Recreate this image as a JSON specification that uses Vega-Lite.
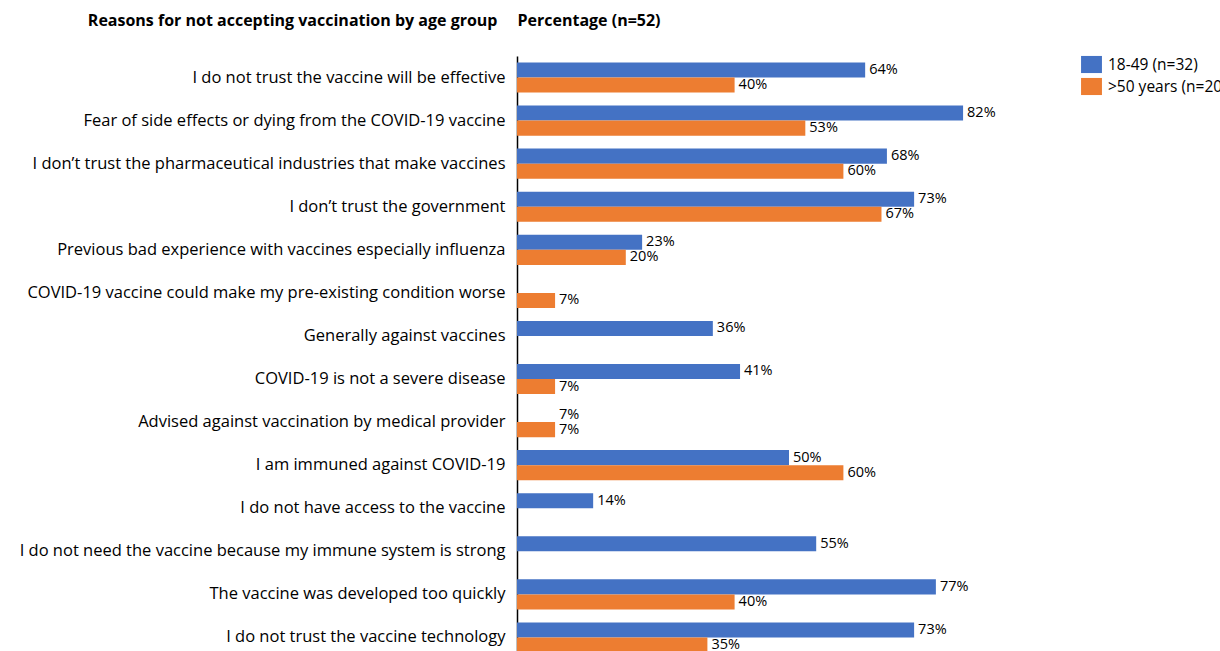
{
  "$schema": "https://vega.github.io/schema/vega-lite/v6.json",
  "autosize": {"type": "none"},
  "padding": {"left": 517, "top": 56, "right": 159, "bottom": 0},
  "width": 544,
  "height": 603,
  "background": "white",
  "config": {"view": {"stroke": null}},
  "data": {
    "values": [
      {"reason": "I do not trust the vaccine will be effective", "group": "18-49 (n=32)", "pct": 64, "bar": 64},
      {"reason": "I do not trust the vaccine will be effective", "group": ">50 years (n=20)", "pct": 40, "bar": 40},
      {"reason": "Fear of side effects or dying from the COVID-19 vaccine", "group": "18-49 (n=32)", "pct": 82, "bar": 82},
      {"reason": "Fear of side effects or dying from the COVID-19 vaccine", "group": ">50 years (n=20)", "pct": 53, "bar": 53},
      {"reason": "I don’t trust the pharmaceutical industries that make vaccines", "group": "18-49 (n=32)", "pct": 68, "bar": 68},
      {"reason": "I don’t trust the pharmaceutical industries that make vaccines", "group": ">50 years (n=20)", "pct": 60, "bar": 60},
      {"reason": "I don’t trust the government", "group": "18-49 (n=32)", "pct": 73, "bar": 73},
      {"reason": "I don’t trust the government", "group": ">50 years (n=20)", "pct": 67, "bar": 67},
      {"reason": "Previous bad experience with vaccines especially influenza", "group": "18-49 (n=32)", "pct": 23, "bar": 23},
      {"reason": "Previous bad experience with vaccines especially influenza", "group": ">50 years (n=20)", "pct": 20, "bar": 20},
      {"reason": "COVID-19 vaccine could make my pre-existing  condition worse", "group": ">50 years (n=20)", "pct": 7, "bar": 7},
      {"reason": "Generally against vaccines", "group": "18-49 (n=32)", "pct": 36, "bar": 36},
      {"reason": "COVID-19 is not a severe disease", "group": "18-49 (n=32)", "pct": 41, "bar": 41},
      {"reason": "COVID-19 is not a severe disease", "group": ">50 years (n=20)", "pct": 7, "bar": 7},
      {"reason": "Advised against vaccination by medical provider", "group": "18-49 (n=32)", "pct": 7, "bar": null},
      {"reason": "Advised against vaccination by medical provider", "group": ">50 years (n=20)", "pct": 7, "bar": 7},
      {"reason": "I am immuned against COVID-19", "group": "18-49 (n=32)", "pct": 50, "bar": 50},
      {"reason": "I am immuned against COVID-19", "group": ">50 years (n=20)", "pct": 60, "bar": 60},
      {"reason": "I do not have access to the vaccine", "group": "18-49 (n=32)", "pct": 14, "bar": 14},
      {"reason": "I do not need the vaccine because my immune system is strong", "group": "18-49 (n=32)", "pct": 55, "bar": 55},
      {"reason": "The vaccine was developed too quickly", "group": "18-49 (n=32)", "pct": 77, "bar": 77},
      {"reason": "The vaccine was developed too quickly", "group": ">50 years (n=20)", "pct": 40, "bar": 40},
      {"reason": "I do not trust the vaccine technology", "group": "18-49 (n=32)", "pct": 73, "bar": 73},
      {"reason": "I do not trust the vaccine technology", "group": ">50 years (n=20)", "pct": 35, "bar": 35}
    ]
  },
  "encoding": {
    "y": {
      "field": "reason",
      "type": "nominal",
      "sort": null,
      "scale": {"paddingInner": 0.3, "paddingOuter": 0.15},
      "axis": {
        "title": "Reasons for not accepting vaccination by age group",
        "titleAngle": 0,
        "titleAlign": "right",
        "titleBaseline": "middle",
        "titleX": -20,
        "titleY": -36,
        "titleFont": "Open Sans",
        "titleFontSize": 16,
        "titleFontWeight": "bold",
        "titleColor": "#000000",
        "labelFont": "Open Sans",
        "labelFontSize": 16.5,
        "labelColor": "#000000",
        "labelPadding": 12,
        "labelLimit": 600,
        "ticks": false,
        "domainColor": "#000000",
        "domainWidth": 1.5
      }
    },
    "yOffset": {
      "field": "group",
      "type": "nominal",
      "scale": {"domain": ["18-49 (n=32)", ">50 years (n=20)"], "paddingInner": 0, "paddingOuter": 0}
    },
    "x": {
      "type": "quantitative",
      "scale": {"domain": [0, 100]},
      "axis": {
        "orient": "top",
        "title": "Percentage (n=52)",
        "titleAnchor": "start",
        "titleAlign": "left",
        "titleBaseline": "middle",
        "titleAngle": 0,
        "titleX": 0,
        "titleY": -36,
        "titleFont": "Open Sans",
        "titleFontSize": 16,
        "titleFontWeight": "bold",
        "titleColor": "#000000",
        "labels": false,
        "ticks": false,
        "domain": false,
        "grid": false
      }
    }
  },
  "layer": [
    {
      "mark": {"type": "bar", "cornerRadius": 0},
      "encoding": {
        "x": {"field": "bar", "type": "quantitative"},
        "color": {
          "field": "group",
          "type": "nominal",
          "scale": {"domain": ["18-49 (n=32)", ">50 years (n=20)"], "range": ["#4472C4", "#ED7D31"]},
          "legend": {
            "title": null,
            "orient": "none",
            "legendX": 565,
            "legendY": -1,
            "symbolType": "M-1.1,-0.9H1.1V0.9H-1.1Z",
            "symbolSize": 361,
            "symbolStrokeWidth": 0,
            "labelFont": "Open Sans",
            "labelFontSize": 15.5,
            "labelColor": "#000000",
            "labelOffset": 7,
            "rowPadding": 3,
            "labelLimit": 300
          }
        }
      }
    },
    {
      "mark": {"type": "text", "align": "left", "baseline": "middle", "dx": 4, "dy": 0, "font": "Open Sans", "fontSize": 14.5, "color": "#000000", "text": {"expr": "datum.pct + '%'"}},
      "encoding": {
        "x": {"field": "pct", "type": "quantitative"},
        "detail": {"field": "group"}
      }
    }
  ]
}
